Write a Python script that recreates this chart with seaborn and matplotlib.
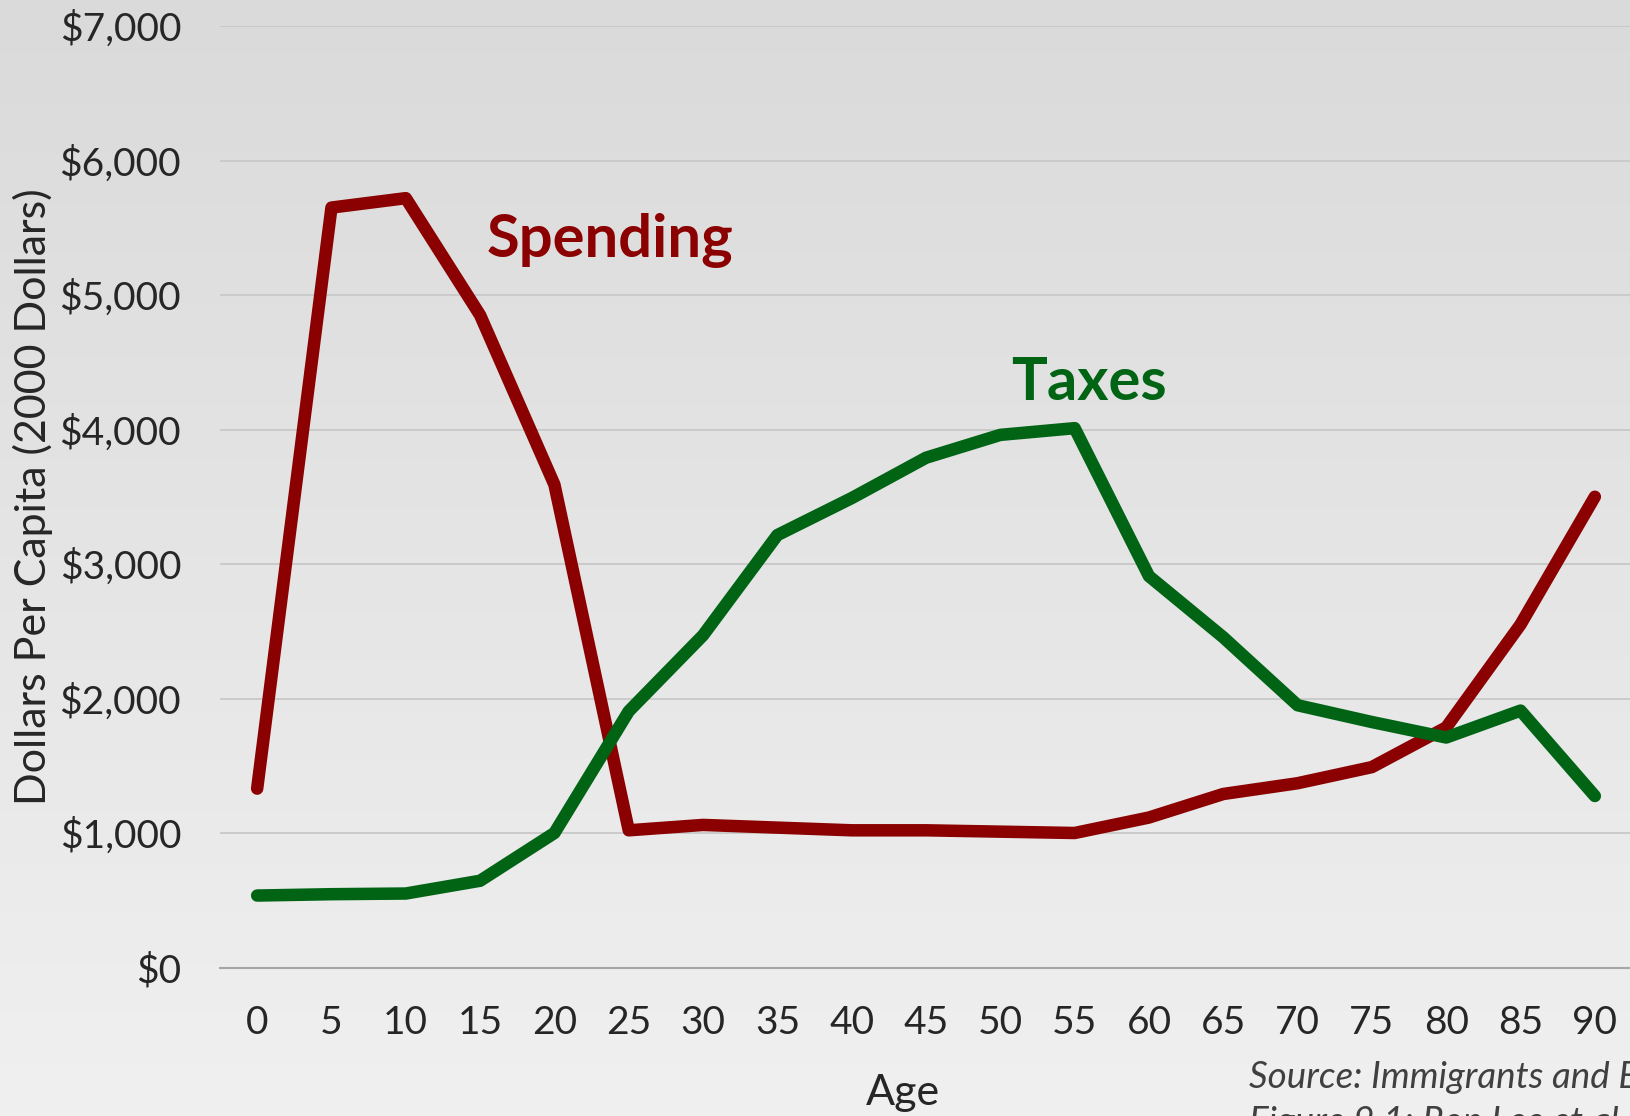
import numpy as np
import pandas as pd
import matplotlib
matplotlib.use("Agg")
import matplotlib.pyplot as plt
import seaborn as sns
from matplotlib.colors import LinearSegmentedColormap

# data
ages = [0, 5, 10, 15, 20, 25, 30, 35, 40, 45, 50, 55, 60, 65, 70, 75, 80, 85, 90]
spending = [1330, 5650, 5720, 4850, 3590, 1020, 1060, 1040, 1020, 1020, 1010, 1000,
            1115, 1290, 1370, 1490, 1785, 2550, 3500]
taxes = [535, 545, 550, 645, 1000, 1905, 2470, 3215, 3490, 3790, 3960, 4010,
         2910, 2455, 1950, 1825, 1710, 1910, 1275]
yticks = [0, 1000, 2000, 3000, 4000, 5000, 6000, 7000]

red = "#8b0000"
green = "#006414"

df = pd.DataFrame({
    "Age": ages * 2,
    "Value": spending + taxes,
    "Series": ["Spending"] * len(ages) + ["Taxes"] * len(ages),
})

sns.set_style("white")
plt.rcParams["font.family"] = ["Lato", "DejaVu Sans"]

W, H = 1631, 1116
fig = plt.figure(figsize=(W / 100, H / 100), dpi=100)

# grey gradient background
bg = fig.add_axes([0, 0, 1, 1], zorder=-1)
cmap = LinearSegmentedColormap.from_list("bg", ["#dadada", "#f0f0f0"])
bg.imshow(np.linspace(0, 1, 256)[:, None], cmap=cmap, aspect="auto", extent=[0, 1, 0, 1])
bg.axis("off")

left, right = 220 / W, 1632 / W
bottom, top = 1 - 967.5 / H, 1 - 26 / H
ax = fig.add_axes([left, bottom, right - left, top - bottom])
ax.set_facecolor("none")

sns.lineplot(data=df, x="Age", y="Value", hue="Series",
             palette={"Spending": red, "Taxes": green},
             linewidth=9, legend=False, ax=ax, solid_capstyle="round")

ax.set_xlim(-2.5, 92.5)
ax.set_ylim(0, 7000)

# tick marks at category boundaries, labels at centres
ax.set_xticks([a - 2.5 for a in ages] + [92.5])
ax.set_xticklabels([])
ax.set_xticks(ages, minor=True)
ax.set_xticklabels([str(a) for a in ages], minor=True)
ax.tick_params(axis="x", which="major", length=10, width=1.5, color="#a6a6a6", direction="out")
ax.tick_params(axis="x", which="minor", length=0, pad=27, labelsize=28)

ax.set_yticks(yticks)
ax.set_yticklabels([f"${v:,}" for v in yticks])
ax.tick_params(axis="y", length=0, pad=28, labelsize=28)

ax.grid(axis="y", color="#c8c8c8", linewidth=1.3)
ax.set_axisbelow(True)
for s in ["left", "right", "top"]:
    ax.spines[s].set_visible(False)
ax.spines["bottom"].set_color("#a6a6a6")
ax.spines["bottom"].set_linewidth(1.5)
ax.set_xlabel("")
ax.set_ylabel("")

fig.text(33 / W, 1 - 497 / H, "Dollars Per Capita (2000 Dollars)", rotation=90,
         ha="center", va="center", fontsize=31)
fig.text(903 / W, 1 - 1093 / H, "Age", ha="center", va="center", fontsize=31)

fig.text(487 / W, 1 - 257 / H, "Spending", color=red, fontsize=43,
         fontweight="bold", ha="left", va="baseline")
fig.text(1011 / W, 1 - 400 / H, "Taxes", color=green, fontsize=43,
         fontweight="bold", ha="left", va="baseline")

fig.text(1249 / W, 1 - 1088 / H, "Source: Immigrants and Economics", color="#404040",
         fontsize=26.5, fontstyle="italic", ha="left", va="baseline")
fig.text(1249 / W, 1 - 1133 / H, "Figure 9.1: Ron Lee et al.", color="#404040",
         fontsize=26.5, fontstyle="italic", ha="left", va="baseline")

fig.savefig("out.png", dpi=100)
